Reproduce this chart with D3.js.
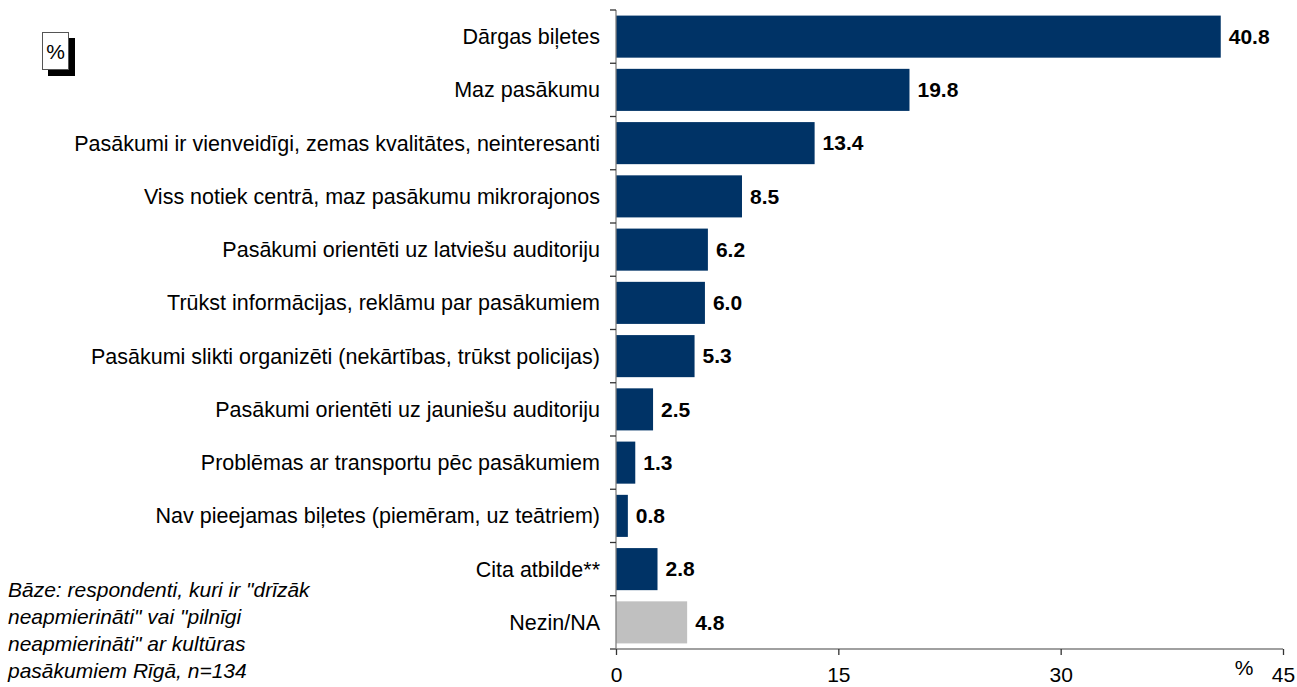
<!DOCTYPE html>
<html>
<head>
<meta charset="utf-8">
<script src="https://cdn.jsdelivr.net/npm/d3@7"></script>
<style>
  body { margin: 0; background: #fff; }
  svg { font-family: "Liberation Sans", Arial, sans-serif; }
</style>
</head>
<body>
<svg width="1297" height="687"></svg>
<script>
// data
const categories = [
  "Dārgas biļetes",
  "Maz pasākumu",
  "Pasākumi ir vienveidīgi, zemas kvalitātes, neinteresanti",
  "Viss notiek centrā, maz pasākumu mikrorajonos",
  "Pasākumi orientēti uz latviešu auditoriju",
  "Trūkst informācijas, reklāmu par pasākumiem",
  "Pasākumi slikti organizēti (nekārtības, trūkst policijas)",
  "Pasākumi orientēti uz jauniešu auditoriju",
  "Problēmas ar transportu pēc pasākumiem",
  "Nav pieejamas biļetes (piemēram, uz teātriem)",
  "Cita atbilde**",
  "Nezin/NA"
];
const values = [40.8, 19.8, 13.4, 8.5, 6.2, 6.0, 5.3, 2.5, 1.3, 0.8, 2.8, 4.8];
const xTicks = [0, 15, 30, 45];
const noteLines = [
  "Bāze: respondenti, kuri ir \"drīzāk",
  "neapmierināti\" vai \"pilnīgi",
  "neapmierināti\" ar kultūras",
  "pasākumiem Rīgā, n=134"
];

const data = categories.map((c, i) => ({cat: c, val: values[i]}));

const svg = d3.select("svg");
const plotLeft = 616, plotRight = 1283, plotTop = 10, plotBottom = 649;
const axisColor = "#808080";
const fs = "21px";

const x = d3.scaleLinear().domain([0, 45]).range([plotLeft, plotRight]);
const y = d3.scaleBand()
  .domain(categories)
  .range([plotTop, plotBottom])
  .paddingInner(0.21)
  .paddingOuter(0.105);

// bars
svg.selectAll("rect.bar").data(data).enter().append("rect")
  .attr("class", "bar")
  .attr("x", x(0))
  .attr("y", d => y(d.cat))
  .attr("width", d => x(d.val) - x(0))
  .attr("height", y.bandwidth())
  .attr("fill", d => d.cat === "Nezin/NA" ? "#c0c0c0" : "#003366");

// value labels
svg.selectAll("text.val").data(data).enter().append("text")
  .attr("class", "val")
  .attr("x", d => x(d.val) + 8)
  .attr("y", d => y(d.cat) + y.bandwidth() / 2)
  .attr("dy", "0.35em")
  .attr("font-size", fs)
  .attr("font-weight", "bold")
  .text(d => d.val.toFixed(1));

// category labels
svg.selectAll("text.cat").data(data).enter().append("text")
  .attr("class", "cat")
  .attr("x", plotLeft - 16)
  .attr("y", d => y(d.cat) + y.bandwidth() / 2)
  .attr("dy", "0.35em")
  .attr("text-anchor", "end")
  .attr("font-size", "21.5px")
  .text(d => d.cat);

// y axis with ticks at band boundaries
const step = y.step();
const yBounds = d3.range(categories.length + 1).map(i => plotTop + i * step);
svg.append("line")
  .attr("x1", plotLeft).attr("x2", plotLeft)
  .attr("y1", plotTop).attr("y2", plotBottom)
  .attr("stroke", axisColor).attr("stroke-width", 1.3);
svg.selectAll("line.ytick").data(yBounds).enter().append("line")
  .attr("x1", plotLeft - 6).attr("x2", plotLeft)
  .attr("y1", d => d).attr("y2", d => d)
  .attr("stroke", "#333").attr("stroke-width", 1.3);

// x axis
const xAxis = svg.append("g")
  .attr("transform", `translate(0, ${plotBottom})`)
  .call(d3.axisBottom(x).tickValues(xTicks).tickSize(6).tickPadding(12));
xAxis.select(".domain").attr("stroke", axisColor).attr("stroke-width", 1.3)
  .attr("d", `M${plotLeft - 6},0H${plotRight}`);
xAxis.selectAll(".tick line").attr("stroke", "#333").attr("stroke-width", 1.3);
xAxis.selectAll(".tick text")
  .attr("font-size", fs)
  .attr("font-family", "Liberation Sans, Arial, sans-serif")
  .attr("fill", "#000");

svg.append("text")
  .attr("x", 1244).attr("y", 668)
  .attr("dy", "0.35em")
  .attr("text-anchor", "middle")
  .attr("font-size", fs)
  .text("%");

// % box top left
svg.append("rect")
  .attr("x", 48).attr("y", 38).attr("width", 27).attr("height", 38)
  .attr("fill", "#000");
svg.append("rect")
  .attr("x", 42.5).attr("y", 32.5).attr("width", 26).attr("height", 37)
  .attr("fill", "#fff").attr("stroke", "#555").attr("stroke-width", 1);
svg.append("text")
  .attr("x", 55.5).attr("y", 52)
  .attr("dy", "0.35em")
  .attr("text-anchor", "middle")
  .attr("font-size", "21px")
  .text("%");

// base note
svg.selectAll("text.note").data(noteLines).enter().append("text")
  .attr("class", "note")
  .attr("x", 8)
  .attr("y", (d, i) => 590 + i * 27)
  .attr("dy", "0.35em")
  .attr("font-size", fs)
  .attr("font-style", "italic")
  .text(d => d);
</script>
</body>
</html>
